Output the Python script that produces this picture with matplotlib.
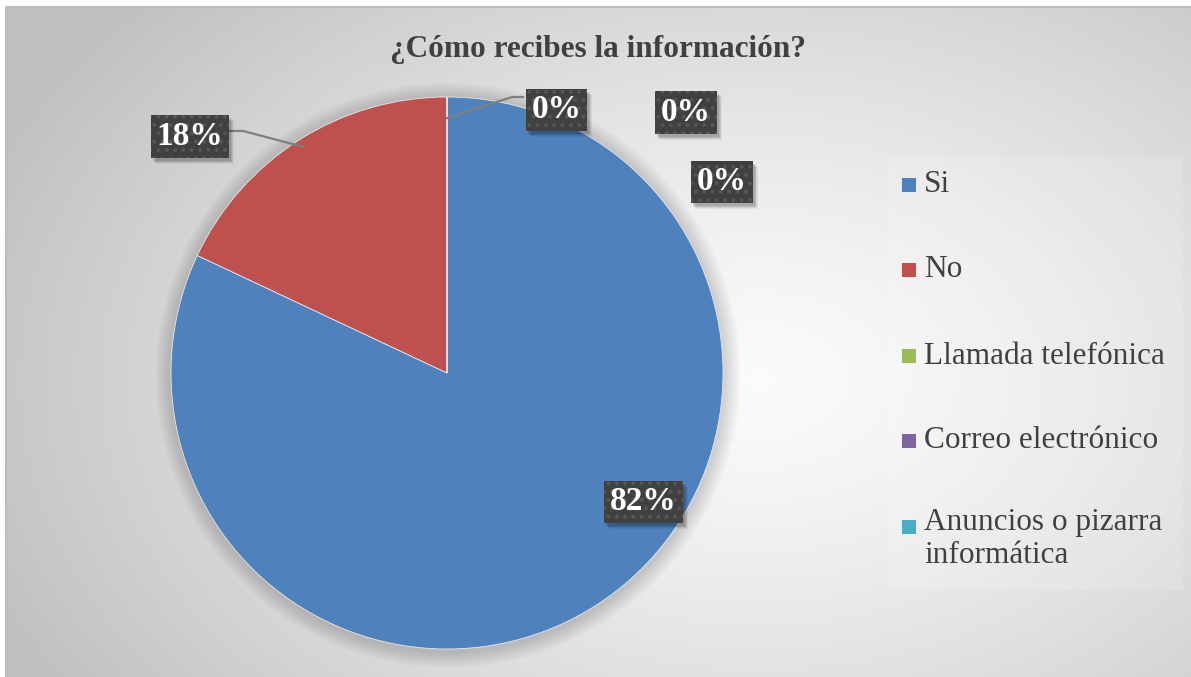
import numpy as np
import matplotlib
matplotlib.use("Agg")
import matplotlib.pyplot as plt
from matplotlib.patches import Rectangle, Circle

# ---- data ----
categories = ["Si", "No", "Llamada telefónica", "Correo electrónico",
              "Anuncios o pizarra\ninformática"]
values = [82, 18, 0, 0, 0]
colors = ["#4F81BD", "#C0504D", "#9BBB59", "#8064A2", "#4BACC6"]
title = "¿Cómo recibes la información?"

W, H = 1191, 677
plt.rcParams["font.family"] = ["Liberation Serif", "DejaVu Serif"]
plt.rcParams["hatch.linewidth"] = 1.6
fig = plt.figure(figsize=(W / 100, H / 100), dpi=100)
fig.patch.set_facecolor("white")

def fx(px):
    return px / W

def fy(py):
    return 1 - py / H

# ---- background gradient ----
bg = fig.add_axes([fx(6), 0, 1 - fx(6), fy(7)])
bg.set_axis_off()
yy, xx = np.mgrid[7:H, 6:W]
cx, cy = 760, 380
d = np.sqrt(((xx - cx) / 820.0) ** 2 + ((yy - cy) / 560.0) ** 2)
d = np.clip(d, 0, 1)
lo, hi = 0.985, 0.76
g = hi + (lo - hi) * (1 - d ** 1.3)
img = np.dstack([g, g, g])
bg.imshow(img, aspect="auto", extent=[0, 1, 0, 1], origin="upper")
bg.set_xlim(0, 1)
bg.set_ylim(0, 1)
bg.plot([0, 0, 1], [0, 1, 1], color="#bdbdbd", lw=1.5, transform=bg.transAxes,
        clip_on=False)
# legend area (slightly lighter box)
fig.patches.append(Rectangle((fx(888), fy(590)), fx(1183) - fx(888),
                             fy(157) - fy(590), transform=fig.transFigure,
                             facecolor="white", alpha=0.14, edgecolor="none",
                             zorder=1))

# ---- pie ----
pcx, pcy, R = 447, 373, 276
ax = fig.add_axes([fx(pcx - R), fy(pcy + R), 2 * R / W, 2 * R / H])
ax.set_zorder(2)
ax.patch.set_alpha(0)
# soft shadow halo
for k in range(10):
    ax.add_patch(Circle((0.004, -0.008), 1.0 + 0.006 * (10 - k), facecolor="black",
                        alpha=0.016, edgecolor="none", zorder=0, clip_on=False))
wedges, _ = ax.pie(values, colors=colors, startangle=90, counterclock=False,
                   radius=1.0, wedgeprops=dict(edgecolor="#e8e8e8", linewidth=0.6),
                   normalize=True)
for w in wedges:
    w.set_zorder(2)
    w.set_clip_on(False)
ax.set_xlim(-1, 1)
ax.set_ylim(-1, 1)
ax.set_axis_off()

# ---- data labels ----
total = sum(values)
pct = [f"{round(v / total * 100)}%" for v in values]
label_pos = [(0.712, -0.467), (-0.931, 0.857), (0.397, 0.953),
             (0.866, 0.944), (0.996, 0.693)]

texts = []
for (lx, ly), t in zip(label_pos, pct):
    txt = ax.text(lx, ly, t, ha="center", va="center", fontsize=24,
                  fontweight="bold", color="white", zorder=6, clip_on=False,
                  bbox=dict(boxstyle="square,pad=0.17", facecolor="#404040",
                            edgecolor="#565656", linewidth=0, hatch=".."))
    texts.append(txt)

# soft drop shadows behind label boxes
fig.canvas.draw()
inv = ax.transData.inverted()
for txt in texts:
    bb = txt.get_bbox_patch().get_window_extent()
    for off, a in [(6, 0.05), (5, 0.07), (4, 0.09), (3, 0.11)]:
        x0, y0 = inv.transform((bb.x0 + off - 1, bb.y0 - off))
        x1, y1 = inv.transform((bb.x1 + off - 1, bb.y1 - off))
        ax.add_patch(Rectangle((x0, y0), x1 - x0, y1 - y0, facecolor="black",
                               alpha=a, edgecolor="none", zorder=5,
                               clip_on=False))

# leader lines
mid_no = np.deg2rad(90 - 360 * (values[0] + values[1] / 2) / total)
ax.plot([-0.786, -0.739, np.cos(mid_no) * 0.97], [0.877, 0.877, np.sin(mid_no) * 0.97],
        color="#7f7f7f", lw=1.6, zorder=4, clip_on=False)
ax.plot([0.0, 0.236, 0.275], [0.924, 1.0, 1.0], color="#7f7f7f", lw=1.6,
        zorder=4, clip_on=False)

# ---- title ----
fig.text(fx(598), fy(50), title, ha="center", va="center", fontsize=22.5,
         fontweight="bold", color="#404040")

# ---- legend (manual) ----
leg_y = [185, 270, 356, 441, 527]
for c, lab, y in zip(colors, categories, leg_y):
    fig.patches.append(Rectangle((fx(902), fy(y + 7)), 14 / W, 14 / H,
                                 transform=fig.transFigure, facecolor=c,
                                 edgecolor="none", zorder=3))
    multi = "\n" in lab
    fig.text(fx(924), fy(y - 19) if multi else fy(y), lab, ha="left",
             va="top" if multi else "center", fontsize=22.5, color="#404040",
             linespacing=1.2)

fig.savefig("out.png", dpi=100, facecolor=fig.get_facecolor())
